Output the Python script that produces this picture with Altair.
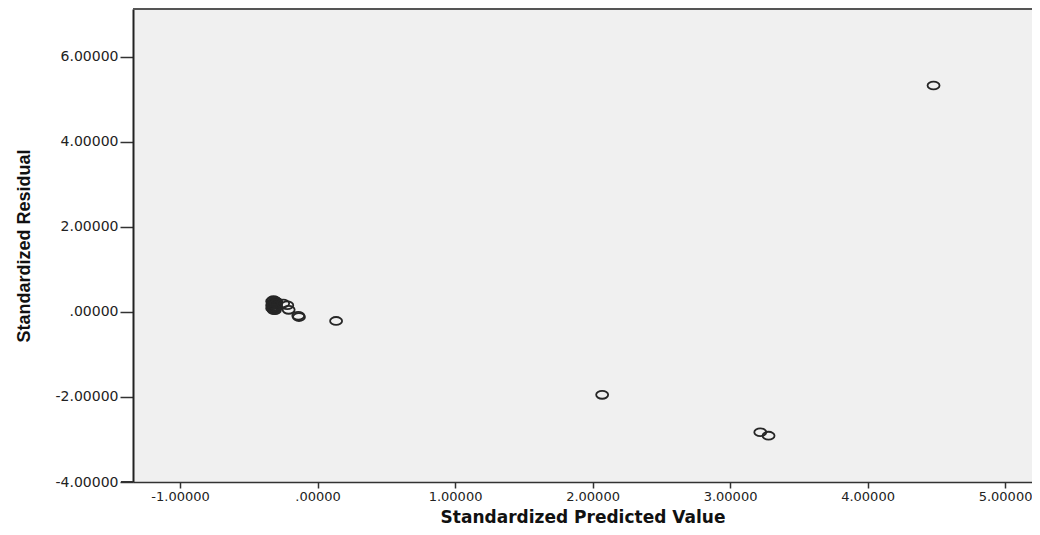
import altair as alt
import pandas as pd

# Standardized predicted value (x) and standardized residual (y)
pred_x = [-0.32, -0.33, -0.32, -0.31, -0.33, -0.32, -0.31, -0.32, -0.30, -0.30,
          -0.31, -0.33, -0.32, -0.31, -0.30, -0.32,
          -0.25, -0.22, -0.21, -0.14, -0.135, 0.135,
          2.07, 3.22, 3.28, 4.48]
resid_y = [0.28, 0.25, 0.22, 0.19, 0.16, 0.13, 0.10, 0.07, 0.24, 0.12,
           0.04, 0.09, 0.17, 0.26, 0.20, 0.05,
           0.20, 0.16, 0.05, -0.09, -0.12, -0.21,
           -1.95, -2.83, -2.91, 5.33]

x_ticks = [-1, 0, 1, 2, 3, 4, 5]
y_ticks = [-4, -2, 0, 2, 4, 6]
x_domain = [-1.342, 5.196]
y_domain = [-4, 7.129]

W, H = 899, 473

df = pd.DataFrame({"pred": pred_x, "resid": resid_y})

label_expr = ("datum.value == 0 ? '.00000' : "
              "replace(format(datum.value, '.5f'), '\u2212', '-')")

ellipse = "M-1,0A1,0.65,0,1,1,1,0A1,0.65,0,1,1,-1,0Z"

points = alt.Chart(df).mark_point(
    shape=ellipse, size=144, filled=False, stroke="#262626", strokeWidth=1.8, opacity=1
).encode(
    x=alt.X("pred:Q", scale=alt.Scale(domain=x_domain, nice=False, zero=False),
            axis=alt.Axis(values=x_ticks, labelExpr=label_expr,
                          title="Standardized Predicted Value",
                          tickSize=6, labelPadding=2, titlePadding=6,
                          domainColor="#333333", domainWidth=1.5,
                          tickColor="#333333", tickWidth=1.5,
                          labelFont="DejaVu Sans", labelFontSize=13, labelColor="#222222",
                          titleFont="DejaVu Sans", titleFontSize=17, titleFontWeight="bold",
                          titleColor="#111111", grid=False, labelFlush=False)),
    y=alt.Y("resid:Q", scale=alt.Scale(domain=y_domain, nice=False, zero=False),
            axis=alt.Axis(values=y_ticks, labelExpr=label_expr,
                          title="Standardized Residual",
                          tickSize=13, labelPadding=2,
                          titleX=-109, titleY=H / 2, titleBaseline="middle", titleAngle=-90,
                          domainColor="#222222", domainWidth=2,
                          tickColor="#333333", tickWidth=1.5,
                          labelFont="DejaVu Sans", labelFontSize=14, labelColor="#222222",
                          titleFont="Liberation Sans", titleFontSize=18, titleFontWeight="bold",
                          titleColor="#111111", grid=False, labelFlush=False)),
)

top_border = alt.Chart(df).mark_rule(color="#555555", strokeWidth=2).encode(
    x=alt.value(0), x2=alt.value(W), y=alt.value(0)
)
axis_ext = alt.Chart(df).mark_rule(color="#333333", strokeWidth=1.5).encode(
    x=alt.value(-12), x2=alt.value(0), y=alt.value(H)
)

chart = alt.layer(points, top_border, axis_ext).properties(
    width=W, height=H,
    autosize=alt.AutoSizeParams(type="none"),
    padding={"left": 125, "top": 1, "right": 0, "bottom": 44},
    background="white",
).configure_view(stroke=None, fill="#f0f0f0")

chart.save("out.html", embed_options={"renderer": "svg", "actions": False})
